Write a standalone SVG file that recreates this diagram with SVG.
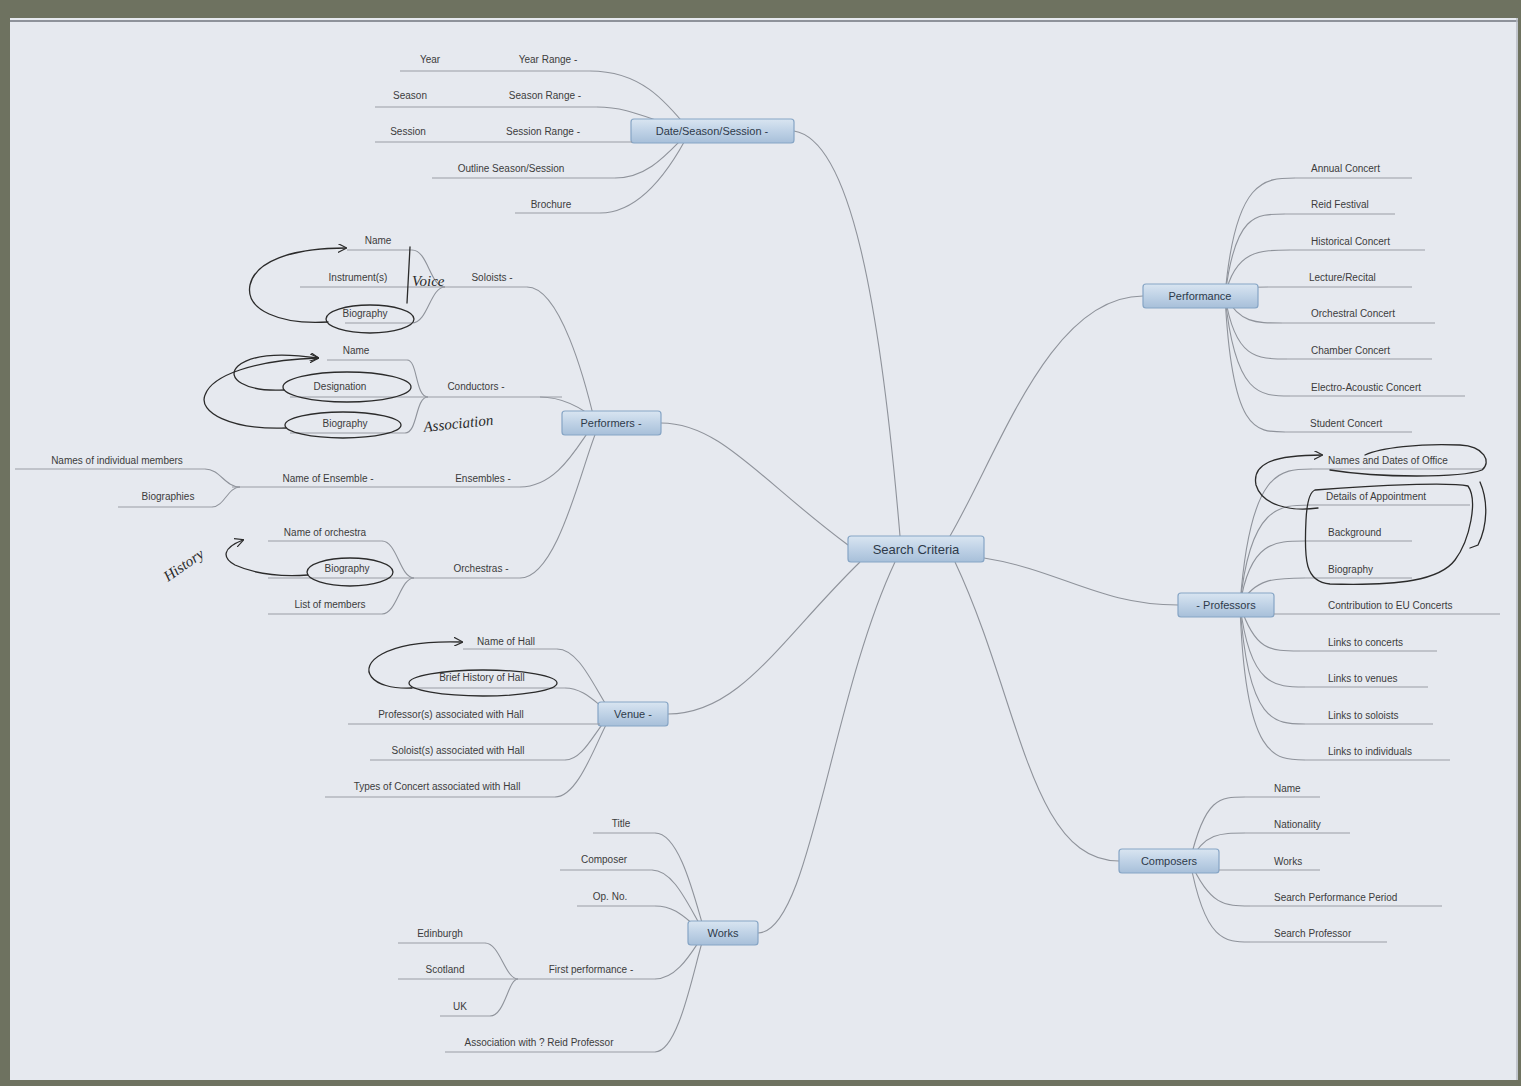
<svg xmlns="http://www.w3.org/2000/svg" width="1521" height="1086" viewBox="0 0 1521 1086">
<defs>
<linearGradient id="ng" x1="0" y1="0" x2="0" y2="1">
<stop offset="0" stop-color="#d9e5f1"/>
<stop offset="0.5" stop-color="#bfd2e6"/>
<stop offset="1" stop-color="#a7bfd9"/>
</linearGradient>
<marker id="ah" viewBox="0 0 10 10" refX="9" refY="5" markerWidth="9" markerHeight="9" orient="auto" markerUnits="userSpaceOnUse">
<path d="M0 0 L10 5 L0 10" fill="none" stroke="#2b2b2b" stroke-width="1.3"/>
</marker>
</defs>
<style>
.lf{font-family:"Liberation Sans",Arial,sans-serif;font-size:10px;fill:#3c3c3c;text-anchor:middle}
.ls{font-family:"Liberation Sans",Arial,sans-serif;font-size:10px;fill:#3c3c3c;text-anchor:start}
.nt{font-family:"Liberation Sans",Arial,sans-serif;font-size:11px;fill:#2e3a4a;text-anchor:middle}
.ct{font-family:"Liberation Sans",Arial,sans-serif;font-size:13px;fill:#2e3a4a;text-anchor:middle}
.nb{fill:url(#ng);stroke:#86a5c5;stroke-width:1.2}
.ul{stroke:#9a9ea6;stroke-width:1.1;fill:none}
.cn{stroke:#8f939b;stroke-width:1.1;fill:none}
.hw{stroke:#2b2b2b;stroke-width:1.3;fill:none;stroke-linecap:round}
.ht{font-family:"Liberation Serif",serif;font-style:italic;font-size:15px;fill:#2b2b2b}
</style>
<rect x="0" y="0" width="1521" height="1086" fill="#6e7260"/>
<rect x="10" y="18" width="1508" height="1062" fill="#e6e9ef"/>
<line x1="10" y1="21" x2="1518" y2="21" stroke="#8e929a" stroke-width="2"/>
<line x1="1517" y1="18" x2="1517" y2="1080" stroke="#b4b8c0" stroke-width="1.5"/>

<g id="connectors">
<!-- main branches -->
<path class="cn" d="M900 536 C880 300 850 140 794 131"/>
<path class="cn" d="M950 536 C1000 450 1050 296 1143 296"/>
<path class="cn" d="M848 545 C760 480 720 423 661 423"/>
<path class="cn" d="M860 562 C780 640 740 714 668 714"/>
<path class="cn" d="M895 562 C830 700 810 933 758 933"/>
<path class="cn" d="M984 558 C1060 570 1100 605 1178 605"/>
<path class="cn" d="M955 562 C1020 700 1030 861 1119 861"/>
<!-- date/season/session -->
<path class="cn" d="M590 71 C640 71 665 100 690 131"/>
<path class="cn" d="M597 107 C630 107 650 120 690 131"/>
<path class="cn" d="M615 178 C650 178 670 150 690 131"/>
<path class="cn" d="M600 213 C640 213 670 170 690 131"/>
<!-- performers -->
<path class="cn" d="M527 287 C560 287 585 380 595 423"/>
<path class="cn" d="M540 397 C565 397 585 410 600 423"/>
<path class="cn" d="M520 487 C560 487 580 440 595 423"/>
<path class="cn" d="M520 578 C560 578 585 450 600 423"/>
<path class="cn" d="M412 250 C428 250 430 287 445 287"/>
<path class="cn" d="M412 323 C428 323 430 287 445 287"/>
<path class="cn" d="M407 360 C418 360 415 397 428 397"/>
<path class="cn" d="M405 433 C418 433 415 397 428 397"/>
<path class="cn" d="M205 469 C220 469 225 487 240 487"/>
<path class="cn" d="M212 507 C224 507 228 487 240 487"/>
<path class="cn" d="M382 541 C397 541 400 578 414 578"/>
<path class="cn" d="M382 614 C397 614 400 578 414 578"/>
<!-- venue -->
<path class="cn" d="M557 649 C580 649 595 690 612 714"/>
<path class="cn" d="M565 688 C585 688 597 705 612 714"/>
<path class="cn" d="M565 760 C585 760 597 725 612 714"/>
<path class="cn" d="M555 797 C580 797 598 735 612 714"/>
<!-- works -->
<path class="cn" d="M655 833 C680 833 695 900 705 933"/>
<path class="cn" d="M652 870 C675 870 690 910 705 933"/>
<path class="cn" d="M655 906 C680 906 690 925 705 933"/>
<path class="cn" d="M655 979 C680 979 695 945 705 933"/>
<path class="cn" d="M655 1052 C680 1052 695 960 705 933"/>
<path class="cn" d="M485 943 C500 943 505 979 518 979"/>
<path class="cn" d="M490 1016 C505 1016 508 979 518 979"/>
<!-- performance -->
<path class="cn" d="M1225 296 C1235 178 1265 178 1295 178"/>
<path class="cn" d="M1225 296 C1235 214 1255 214 1285 214"/>
<path class="cn" d="M1225 296 C1235 250 1260 250 1290 250"/>
<path class="cn" d="M1225 296 C1240 287 1250 287 1268 287"/>
<path class="cn" d="M1225 296 C1240 323 1255 323 1282 323"/>
<path class="cn" d="M1225 296 C1235 359 1257 359 1287 359"/>
<path class="cn" d="M1225 296 C1235 396 1260 396 1290 396"/>
<path class="cn" d="M1225 296 C1232 432 1255 432 1285 432"/>
<!-- professors -->
<path class="cn" d="M1240 605 C1250 469 1280 469 1312 469"/>
<path class="cn" d="M1240 605 C1250 505 1280 505 1310 505"/>
<path class="cn" d="M1240 605 C1250 541 1275 541 1305 541"/>
<path class="cn" d="M1240 605 C1255 578 1275 578 1305 578"/>
<path class="cn" d="M1240 605 C1255 651 1270 651 1300 651"/>
<path class="cn" d="M1240 605 C1250 687 1275 687 1305 687"/>
<path class="cn" d="M1240 605 C1248 724 1275 724 1305 724"/>
<path class="cn" d="M1240 605 C1245 760 1275 760 1305 760"/>
<!-- composers -->
<path class="cn" d="M1190 861 C1205 797 1220 797 1245 797"/>
<path class="cn" d="M1190 861 C1205 833 1220 833 1245 833"/>
<path class="cn" d="M1190 861 C1210 906 1225 906 1250 906"/>
<path class="cn" d="M1190 861 C1205 942 1225 942 1250 942"/>
</g>

<g id="node-search-criteria">
<rect class="nb" x="848" y="536" width="136" height="26" rx="3"/>
<text class="ct" x="916" y="554">Search Criteria</text>
</g>

<g id="node-date-season-session">
<rect class="nb" x="631" y="119" width="163" height="24" rx="3"/>
<text class="nt" x="712" y="135">Date/Season/Session -</text>
<path class="ul" d="M400 71 H590 M375 107 H597 M375 142 H632 M432 178 H615 M515 213 H600"/>
<text class="lf" x="430" y="63">Year</text>
<text class="lf" x="548" y="63">Year Range -</text>
<text class="lf" x="410" y="99">Season</text>
<text class="lf" x="545" y="99">Season Range -</text>
<text class="lf" x="408" y="135">Session</text>
<text class="lf" x="543" y="135">Session Range -</text>
<text class="lf" x="511" y="172">Outline Season/Session</text>
<text class="lf" x="551" y="208">Brochure</text>
</g>

<g id="node-performers">
<rect class="nb" x="562" y="411" width="99" height="24" rx="3"/>
<text class="nt" x="611" y="427">Performers -</text>
<path class="ul" d="M347 250 H412 M300 287 H527 M345 323 H412 M327 360 H407 M290 397 H562 M290 433 H405 M15 469 H205 M232 487 H520 M118 507 H212 M268 541 H382 M268 578 H520 M268 614 H382"/>
<text class="lf" x="378" y="244">Name</text>
<text class="lf" x="358" y="281">Instrument(s)</text>
<text class="lf" x="492" y="281">Soloists -</text>
<text class="lf" x="365" y="317">Biography</text>
<text class="lf" x="356" y="354">Name</text>
<text class="lf" x="340" y="390">Designation</text>
<text class="lf" x="476" y="390">Conductors -</text>
<text class="lf" x="345" y="427">Biography</text>
<text class="lf" x="117" y="464">Names of individual members</text>
<text class="lf" x="328" y="482">Name of Ensemble -</text>
<text class="lf" x="483" y="482">Ensembles -</text>
<text class="lf" x="168" y="500">Biographies</text>
<text class="lf" x="325" y="536">Name of orchestra</text>
<text class="lf" x="347" y="572">Biography</text>
<text class="lf" x="481" y="572">Orchestras -</text>
<text class="lf" x="330" y="608">List of members</text>
</g>

<g id="node-venue">
<rect class="nb" x="598" y="702" width="70" height="24" rx="3"/>
<text class="nt" x="633" y="718">Venue -</text>
<path class="ul" d="M463 649 H557 M410 688 H565 M348 724 H600 M370 760 H565 M325 797 H555"/>
<text class="lf" x="506" y="645">Name of Hall</text>
<text class="lf" x="482" y="681">Brief History of Hall</text>
<text class="lf" x="451" y="718">Professor(s) associated with Hall</text>
<text class="lf" x="458" y="754">Soloist(s) associated with Hall</text>
<text class="lf" x="437" y="790">Types of Concert associated with Hall</text>
</g>

<g id="node-works">
<rect class="nb" x="688" y="921" width="70" height="24" rx="3"/>
<text class="nt" x="723" y="937">Works</text>
<path class="ul" d="M593 833 H655 M560 870 H652 M577 906 H655 M398 943 H485 M398 979 H655 M440 1016 H490 M445 1052 H655"/>
<text class="lf" x="621" y="827">Title</text>
<text class="lf" x="604" y="863">Composer</text>
<text class="lf" x="610" y="900">Op. No.</text>
<text class="lf" x="440" y="937">Edinburgh</text>
<text class="lf" x="445" y="973">Scotland</text>
<text class="lf" x="460" y="1010">UK</text>
<text class="lf" x="591" y="973">First performance -</text>
<text class="lf" x="539" y="1046">Association with ? Reid Professor</text>
</g>

<g id="node-performance">
<rect class="nb" x="1143" y="284" width="115" height="24" rx="3"/>
<text class="nt" x="1200" y="300">Performance</text>
<path class="ul" d="M1295 178 H1412 M1285 214 H1395 M1290 250 H1425 M1268 287 H1412 M1282 323 H1435 M1287 359 H1432 M1290 396 H1465 M1285 432 H1412"/>
<text class="ls" x="1311" y="172">Annual Concert</text>
<text class="ls" x="1311" y="208">Reid Festival</text>
<text class="ls" x="1311" y="245">Historical Concert</text>
<text class="ls" x="1309" y="281">Lecture/Recital</text>
<text class="ls" x="1311" y="317">Orchestral Concert</text>
<text class="ls" x="1311" y="354">Chamber Concert</text>
<text class="ls" x="1311" y="391">Electro-Acoustic Concert</text>
<text class="ls" x="1310" y="427">Student Concert</text>
</g>

<g id="node-professors">
<rect class="nb" x="1178" y="593" width="96" height="24" rx="3"/>
<text class="nt" x="1226" y="609">- Professors</text>
<path class="ul" d="M1312 469 H1482 M1310 505 H1470 M1305 541 H1412 M1305 578 H1412 M1274 614 H1500 M1300 651 H1437 M1305 687 H1428 M1305 724 H1433 M1305 760 H1450"/>
<text class="ls" x="1328" y="464">Names and Dates of Office</text>
<text class="ls" x="1326" y="500">Details of Appointment</text>
<text class="ls" x="1328" y="536">Background</text>
<text class="ls" x="1328" y="573">Biography</text>
<text class="ls" x="1328" y="609">Contribution to EU Concerts</text>
<text class="ls" x="1328" y="646">Links to concerts</text>
<text class="ls" x="1328" y="682">Links to venues</text>
<text class="ls" x="1328" y="719">Links to soloists</text>
<text class="ls" x="1328" y="755">Links to individuals</text>
</g>

<g id="node-composers">
<rect class="nb" x="1119" y="849" width="100" height="24" rx="3"/>
<text class="nt" x="1169" y="865">Composers</text>
<path class="ul" d="M1245 797 H1320 M1245 833 H1350 M1219 870 H1320 M1250 906 H1442 M1250 942 H1387"/>
<text class="ls" x="1274" y="792">Name</text>
<text class="ls" x="1274" y="828">Nationality</text>
<text class="ls" x="1274" y="865">Works</text>
<text class="ls" x="1274" y="901">Search Performance Period</text>
<text class="ls" x="1274" y="937">Search Professor</text>
</g>

<g id="handwriting">
<!-- soloists -->
<ellipse class="hw" cx="370" cy="319" rx="44" ry="14"/>
<path class="hw" d="M328 322 C280 325 245 310 250 285 C255 262 290 248 346 248" marker-end="url(#ah)"/>
<path class="hw" d="M410 247 C409 265 408 285 407 303"/>
<text class="ht" x="412" y="286">Voice</text>
<!-- conductors -->
<ellipse class="hw" cx="347" cy="387" rx="64" ry="15"/>
<ellipse class="hw" cx="343" cy="425" rx="58" ry="13"/>
<path class="hw" d="M284 390 C245 392 225 378 238 366 C255 352 290 354 318 358" marker-end="url(#ah)"/>
<path class="hw" d="M286 428 C230 430 198 412 205 395 C212 375 255 360 318 358" marker-end="url(#ah)"/>
<text class="ht" x="424" y="432" transform="rotate(-6 424 432)" font-size="17">Association</text>
<!-- orchestras -->
<ellipse class="hw" cx="350" cy="572" rx="43" ry="14"/>
<path class="hw" d="M308 575 C280 577 255 574 235 565 C222 558 222 548 243 540" marker-end="url(#ah)"/>
<text class="ht" x="168" y="582" transform="rotate(-35 168 582)">History</text>
<!-- venue -->
<ellipse class="hw" cx="483" cy="683" rx="74" ry="13"/>
<path class="hw" d="M412 688 C370 690 356 668 382 654 C400 644 430 641 462 642" marker-end="url(#ah)"/>
<!-- professors -->
<path class="hw" d="M1330 470 C1380 478 1460 478 1482 470 C1492 462 1484 446 1460 445 C1420 443 1380 448 1365 455"/>
<path class="hw" d="M1318 508 C1290 512 1262 505 1256 485 C1252 465 1270 455 1322 455" marker-end="url(#ah)"/>
<path class="hw" d="M1315 490 C1380 485 1450 482 1468 486 C1478 500 1470 540 1455 560 C1440 580 1400 586 1330 584 C1305 582 1304 560 1306 520 C1307 500 1310 492 1315 490"/>
<path class="hw" d="M1480 482 C1488 500 1488 525 1478 545 L1470 548"/>
</g>
</svg>
